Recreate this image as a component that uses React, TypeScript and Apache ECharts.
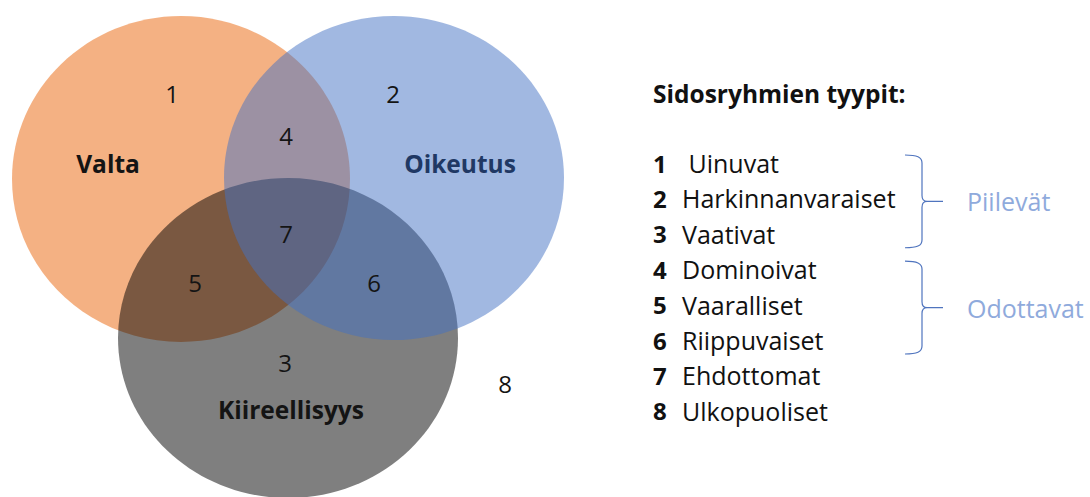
import React, { useEffect, useRef } from "react";
import * as echarts from "echarts";

// Venn sets (drawn in this order: orange, gray, blue)
const setNames = ["Valta", "Kiireellisyys", "Oikeutus"];
const setCenterX = [181, 288, 394];
const setCenterY = [179, 338, 178];
const setRadiusX = [169, 170, 170];
const setRadiusY = [163, 160, 162];
const setColors = ["#ED7D31", "#000000", "#4472C4"];
const setOpacity = [0.6, 0.5, 0.5];

// Set name labels
const setLabelX = [108, 291, 460];
const setLabelY = [163, 409, 163];
const setLabelColors = ["#141414", "#141414", "#203864"];

// Region numbers
const regionLabels = ["1", "2", "3", "4", "5", "6", "7", "8"];
const regionX = [172, 393, 285, 286, 195, 374, 286, 505];
const regionY = [93, 93, 362, 135, 282, 282, 233, 383];

// Legend
const legendTitle = "Sidosryhmien tyypit:";
const legendNumbers = ["1", "2", "3", "4", "5", "6", "7", "8"];
const legendTypes = [
  " Uinuvat",
  "Harkinnanvaraiset",
  "Vaativat",
  "Dominoivat",
  "Vaaralliset",
  "Riippuvaiset",
  "Ehdottomat",
  "Ulkopuoliset",
];
const groupNames = ["Piilevät", "Odottavat"];
const groupFrom = [0, 3];
const groupTo = [2, 5];

const FONT = '"Open Sans", "Noto Sans", sans-serif';

function rgba(hex: string, a: number) {
  const n = parseInt(hex.slice(1), 16);
  return `rgba(${(n >> 16) & 255},${(n >> 8) & 255},${n & 255},${a})`;
}

echarts.graphic.registerShape(
  "brace",
  echarts.graphic.extendPath(
    "M0,0 C12,0 17,2 17,8 L17,41 C17,45 19,47 22,47 L38,47 M22,47 C19,47 17,49 17,53 L17,86 C17,92 12,94 0,94",
    {}
  )
);

export default function App() {
  const ref = useRef<HTMLDivElement>(null);
  useEffect(() => {
    if (!ref.current) return;
    const chart = echarts.init(ref.current, null, { renderer: "svg" });

    const vennData = setNames.map((n, i) => ({
      name: n,
      value: [setCenterX[i], setCenterY[i], setRadiusX[i], setRadiusY[i]],
    }));
    const setLabelData = setNames.map((n, i) => ({
      name: n,
      value: [setLabelX[i], setLabelY[i]],
    }));
    const regionData = regionLabels.map((n, i) => ({
      name: n,
      value: [regionX[i], regionY[i]],
    }));

    const listX = 653;
    const textX = 682;
    const startY = 163;
    const step = 35.4;

    const graphics: any[] = [];
    graphics.push({
      type: "text",
      x: listX,
      y: 93,
      style: {
        text: legendTitle,
        fill: "#111",
        fontFamily: FONT,
        fontWeight: "bold",
        fontSize: 24.5,
        verticalAlign: "middle",
      },
    });
    legendNumbers.forEach((num, i) => {
      const y = startY + i * step;
      graphics.push({
        type: "text",
        x: listX,
        y,
        style: {
          text: num,
          fill: "#111",
          fontFamily: FONT,
          fontWeight: "bold",
          fontSize: 24,
          verticalAlign: "middle",
        },
      });
      graphics.push({
        type: "text",
        x: textX,
        y,
        style: {
          text: legendTypes[i],
          fill: "#111",
          fontFamily: FONT,
          fontSize: 25,
          verticalAlign: "middle",
        },
      });
    });
    groupNames.forEach((g, k) => {
      const y0 = startY + groupFrom[k] * step - 8;
      const y1 = startY + groupTo[k] * step + 14;
      const h = y1 - y0;
      graphics.push({
        type: "brace",
        x: 905,
        y: y0,
        scaleX: 1,
        scaleY: h / 94,
        style: { fill: "none", stroke: "#4F74BE", lineWidth: 1.2 },
      });
      graphics.push({
        type: "text",
        x: 967,
        y: y0 + h / 2,
        style: {
          text: g,
          fill: "#8FAADC",
          fontFamily: FONT,
          fontSize: 25,
          verticalAlign: "middle",
        },
      });
    });

    chart.setOption({
      animation: false,
      grid: { left: 0, top: 0, right: 0, bottom: 0 },
      xAxis: { type: "value", min: 0, max: 1090, show: false },
      yAxis: { type: "value", min: 0, max: 497, inverse: true, show: false },
      series: [
        {
          type: "custom",
          data: vennData,
          renderItem: (params: any, api: any) => {
            const i = params.dataIndex;
            const c = api.coord([api.value(0), api.value(1)]);
            const s = api.size([api.value(2), api.value(3)]);
            return {
              type: "ellipse",
              shape: { cx: c[0], cy: c[1], rx: Math.abs(s[0]), ry: Math.abs(s[1]) },
              style: { fill: rgba(setColors[i], setOpacity[i]) },
            };
          },
        },
        {
          type: "custom",
          data: regionData,
          renderItem: (params: any, api: any) => {
            const c = api.coord([api.value(0), api.value(1)]);
            return {
              type: "text",
              x: c[0],
              y: c[1],
              style: {
                text: regionLabels[params.dataIndex],
                fill: "#141414",
                fontFamily: FONT,
                fontSize: 24,
                align: "center",
                verticalAlign: "middle",
              },
            };
          },
        },
        {
          type: "custom",
          data: setLabelData,
          renderItem: (params: any, api: any) => {
            const c = api.coord([api.value(0), api.value(1)]);
            return {
              type: "text",
              x: c[0],
              y: c[1],
              style: {
                text: setNames[params.dataIndex],
                fill: setLabelColors[params.dataIndex],
                fontFamily: FONT,
                fontWeight: "bold",
                fontSize: 24.5,
                align: "center",
                verticalAlign: "middle",
              },
            };
          },
        },
      ],
      graphic: graphics,
    });
    return () => chart.dispose();
  }, []);
  return (
    <div
      ref={ref}
      style={{ position: "absolute", left: 0, top: 0, width: 1090, height: 497 }}
    />
  );
}
